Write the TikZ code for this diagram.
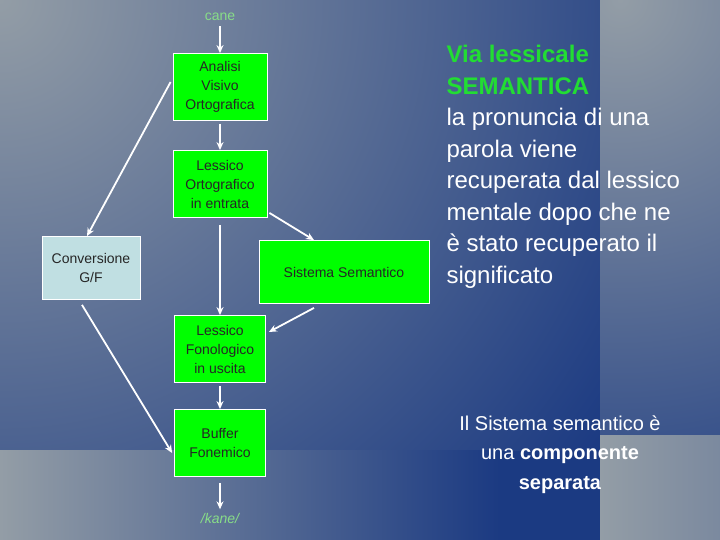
\documentclass[tikz,border=0pt]{standalone}
\usepackage{fontspec}
\setmainfont{Liberation Sans}
\usetikzlibrary{arrows.meta}
\definecolor{dblue}{HTML}{1B3A82}
\definecolor{lgray}{HTML}{939DA6}
\definecolor{bx}{HTML}{00FF00}
\definecolor{cv}{HTML}{C0DFE2}
\definecolor{tg}{HTML}{22DD33}
\definecolor{lg}{HTML}{88DD88}
\tikzset{
  box/.style={draw=white,line width=0.8pt,fill=bx,inner sep=0pt,align=center,font=\fontsize{14}{19}\selectfont,text=black!85},
  arr/.style={draw=white,line width=1.8pt,-{Stealth[length=8pt,width=7pt]}},
}
\begin{document}
\begin{tikzpicture}[x=1pt,y=-1pt]
\useasboundingbox (0,0) rectangle (720,540);
\fill[dblue] (0,0) rectangle (720,540);
\begin{scope}
\clip (0,0) rectangle (600,450);
\shade[inner color=lgray,outer color=dblue] (0,0) circle (750);
\end{scope}
\begin{scope}
\clip (600,0) rectangle (720,435);
\shade[inner color=lgray,outer color=dblue] (620,0) circle (600);
\end{scope}
\begin{scope}
\clip (0,450) rectangle (600,540);
\shade[left color=lgray,right color=dblue] (0,450) rectangle (500,540);
\end{scope}
\shade[left color=lgray,right color=lgray!80!dblue] (600,435) rectangle (720,540);
\node[text=lg,font=\fontsize{14}{16}\selectfont] (cane) at (220,17) {cane};
\node[box,minimum width=94,minimum height=67] (avo) at (220,87) {Analisi\\Visivo\\Ortografica};
\node[box,minimum width=94,minimum height=67] (lo) at (220,184) {Lessico\\Ortografico\\in entrata};
\node[box,fill=cv,minimum width=98,minimum height=63] (cgf) at (91,268) {Conversione\\G/F};
\node[box,minimum width=170,minimum height=63] (ss) at (344,272) {Sistema Semantico};
\node[box,minimum width=91,minimum height=67] (lf) at (220,349) {Lessico\\Fonologico\\in uscita};
\node[box,minimum width=91,minimum height=67] (bf) at (220,443) {Buffer\\Fonemico};
\node[text=lg,font=\fontsize{14}{16}\selectfont\itshape] (kane) at (220,518) {/kane/};
\draw[arr] ([yshift=-2pt]cane.south) -- (avo.north);
\draw[arr] ([yshift=-3pt]avo.south) -- (lo.north);
\draw[arr] ([xshift=-2pt,yshift=5pt]avo.west) -- ([xshift=-4pt]cgf.north);
\draw[arr] ([yshift=-7pt]lo.south) -- (lf.north);
\draw[arr] ([xshift=2pt,yshift=5pt]lo.south east) -- ([xshift=-30pt]ss.north);
\draw[arr] ([xshift=-30pt,yshift=-4pt]ss.south) -- ([xshift=3pt,yshift=17pt]lf.east);
\draw[arr] ([yshift=-3pt]lf.south) -- (bf.north);
\draw[arr] ([xshift=-9pt,yshift=-5pt]cgf.south) -- ([xshift=-2pt,yshift=-10pt]bf.west);
\draw[arr] ([yshift=-6pt]bf.south) -- (kane.north);
\node[anchor=north west,align=left,text=white,font=\fontsize{24}{31.5}\selectfont] (t1) at (443,42)
 {\textcolor{tg}{\bfseries Via lessicale}\\\textcolor{tg}{\bfseries SEMANTICA}\\la pronuncia di una\\parola viene\\recuperata dal lessico\\mentale dopo che ne\\è stato recuperato il\\significato};
\node[anchor=north,align=center,text=white,font=\fontsize{20}{29.5}\selectfont] (t2) at (560,412)
 {Il Sistema semantico è\\una \textbf{componente}\\\textbf{separata}};
\end{tikzpicture}
\end{document}
